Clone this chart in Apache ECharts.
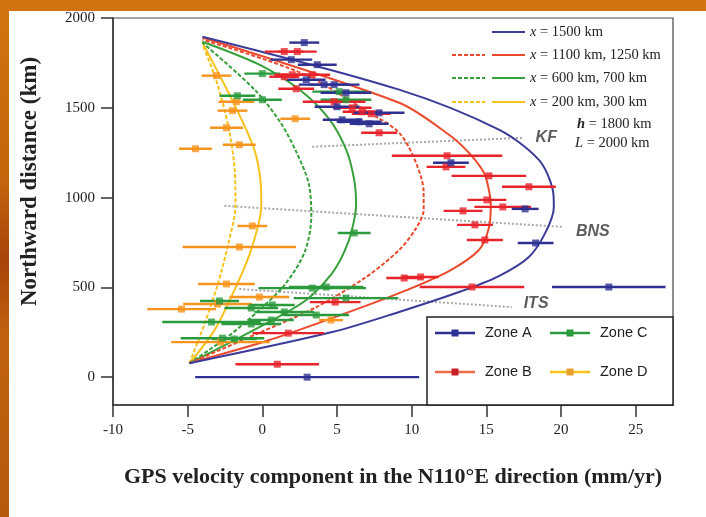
<!DOCTYPE html>
<html><head><meta charset="utf-8">
<script src="https://cdn.jsdelivr.net/npm/echarts@6/dist/echarts.min.js"></script>
<style>
html,body{margin:0;padding:0;width:706px;height:517px;overflow:hidden;}
body{background:linear-gradient(180deg,#d27410 0%,#c4640c 35%,#a8440a 50%,#c2620e 65%,#b85a0c 100%);position:relative;}
#panel{position:absolute;left:9px;top:11px;right:0;bottom:0;background:#fff;}
#chart{position:absolute;left:0;top:0;width:706px;height:517px;}
</style></head><body><div id="panel"></div><div id="chart"></div>
<script>
// ---- tick labels ----
const xTicks = [-10, -5, 0, 5, 10, 15, 20, 25];
const yTicks = [0, 500, 1000, 1500, 2000];

// ---- GPS data: [velocity, northward distance, half error] ----
const zoneA = [[2.81,1863,1.0],[1.94,1768,1.4],[3.68,1740,1.3],[2.94,1656,1.3],[4.14,1629,1.7],[4.81,1629,1.7],
  [5.6,1584,1.7],[5.0,1506,1.5],[5.35,1433,1.3],[6.48,1422,1.5],[7.15,1411,1.3],[7.82,1472,1.7],
  [12.63,1194,1.2],[17.6,937,0.9],[18.3,747,1.2],[23.2,502,3.8],[3.0,0,7.5]];
const zoneB = [[1.47,1813,1.3],[2.34,1813,1.3],[1.47,1673,1.0],[2.0,1684,1.2],[3.34,1684,1.2],[2.27,1606,1.2],
  [4.81,1534,2.1],[6.02,1500,1.3],[6.68,1478,1.3],[7.29,1467,1.3],[7.82,1361,1.2],
  [12.37,1233,3.7],[12.3,1171,1.3],[15.17,1121,2.5],[17.85,1060,1.8],[15.04,987,1.3],[16.1,948,1.9],
  [13.44,926,1.3],[14.24,848,1.2],[14.9,764,1.2],[9.5,552,1.2],[10.6,558,1.2],[14.04,502,3.5],
  [4.88,418,1.7],[1.74,245,2.4],[1.0,72,2.8]];
const zoneC = [[0,1690,1.2],[-1.67,1567,1.2],[0,1545,1.3],[5.15,1590,1.8],[5.6,1545,1.7],[6.15,803,1.1],
  [3.34,496,3.6],[4.28,502,2.5],[5.6,440,3.5],[-2.87,424,1.3],[-0.74,385,1.8],[0.67,402,1.5],
  [1.47,363,2.0],[3.61,346,2.2],[-3.4,307,3.3],[-0.74,296,2.0],[0.6,318,1.5],[-2.67,217,2.8],[-1.87,212,1.5]];
const zoneD = [[-3.07,1679,1.0],[-1.74,1534,1.2],[-2.0,1484,1.0],[-2.4,1389,1.1],[-1.54,1294,1.1],[-4.48,1272,1.1],
  [2.2,1439,1.0],[-0.67,842,1.0],[-1.54,725,3.8],[-2.4,519,1.9],[-0.2,446,2.0],[-5.41,379,2.3],
  [-3.0,407,2.3],[-2.8,195,3.3],[4.6,318,0.8]];

// ---- model profiles: [velocity, northward distance] ----
const model1500 = [[-4.88,78],[4.68,251],[9.16,363],[13.17,474],[15.84,563],[17.85,669],[18.98,809],[19.52,948],
  [19.45,1043],[18.52,1210],[15.84,1378],[9.16,1601],[-4.01,1896]];
const model1250 = [[-4.88,78],[0.27,201],[4.68,329],[9.16,468],[12.5,591],[14.5,708],[15.17,831],[15.3,959],
  [15.17,1043],[14.84,1138],[13.84,1249],[12.5,1350],[9.16,1528],[-4.01,1891]];
const model1100 = [[-4.88,78],[-0.4,240],[3.61,390],[6.95,558],[9.16,708],[10.3,830],[10.8,931],[10.8,1030],
  [10.29,1194],[9.16,1361],[7.0,1480],[2.7,1690],[-4.01,1880]];
const model700 = [[-4.88,78],[0.27,300],[2.94,430],[4.68,580],[5.5,700],[6.0,820],[6.28,960],[6.15,1100],
  [5.6,1270],[4.45,1440],[2.5,1600],[-0.2,1740],[-4.01,1868]];
const model600 = [[-4.88,78],[-2.4,220],[-0.25,370],[1.55,520],[2.85,700],[3.28,900],[3.1,1080],[2.3,1250],
  [1.2,1420],[-0.5,1600],[-4.01,1863]];
const model300 = [[-4.88,78],[-3.2,262],[-1.87,485],[-0.87,680],[-0.27,848],[-0.07,959],[-0.13,1099],[-0.53,1266],
  [-1.54,1461],[-2.54,1629],[-4.01,1863]];
const model200 = [[-4.88,78],[-3.9,290],[-3.0,513],[-2.3,736],[-1.8,959],[-1.85,1155],[-2.3,1405],[-3.1,1656],
  [-4.0,1852]];

// ---- fault traces ----
const faultKF = [[3.34,1283],[17.5,1333]];
const faultBNS = [[-2.54,954],[20.05,837]];
const faultITS = [[-1.54,491],[16.7,390]];
const faultLabels = [[18.3,1333,'KF'],[21.0,809,'BNS'],[17.5,407,'ITS']];

const C = {A:'#2e3192', B:'#e8232a', C:'#2a9a3c', D:'#f7941d',
  m1500:'#3b3b9a', mRed:'#ec4a2c', mGreen:'#36a03a', mYellow:'#f8c21b'};

function errSeries(name, data, color){
  return {type:'custom', name, data, z:3, silent:true, clip:false, encode:{x:0,y:1},
    renderItem(params, api){
      const x=api.value(0), y=api.value(1), e=api.value(2);
      const a=api.coord([x-e,y]), b=api.coord([x+e,y]);
      return {type:'line', shape:{x1:a[0],y1:a[1],x2:b[0],y2:b[1]}, style:{stroke:color, lineWidth:2.4}};
    }};
}
function ptSeries(name, data, color){
  return {type:'scatter', name, data:data.map(d=>[d[0],d[1]]), symbol:'rect', symbolSize:7,
    itemStyle:{color}, z:4, silent:true};
}
function modelSeries(name, data, color, dashed){
  return {type:'line', name, data, showSymbol:false, smooth:0.3, silent:true, z:2,
    lineStyle:{color, width:2, type: dashed ? [4,2] : 'solid'}};
}
function faultSeries(name, data){
  return {type:'line', name, data, showSymbol:false, silent:true, z:1,
    lineStyle:{color:'#a8a8a8', width:2, type:[2,2]}};
}

const serif = 'Liberation Serif';
const sans = 'Liberation Sans';

// legend graphics (model curves)
const g = [];
const rows = [
  {y:32, color:C.m1500, both:false, text:'{i|x} = 1500 km'},
  {y:55, color:C.mRed, both:true, text:'{i|x} = 1100 km, 1250 km'},
  {y:78, color:C.mGreen, both:true, text:'{i|x} = 600 km, 700 km'},
  {y:102, color:C.mYellow, both:true, text:'{i|x} = 200 km, 300 km'}
];
rows.forEach(r=>{
  if (r.both) g.push({type:'line', shape:{x1:452,y1:r.y,x2:485,y2:r.y}, style:{stroke:r.color, lineWidth:2, lineDash:[4,2]}});
  g.push({type:'line', shape:{x1:492,y1:r.y,x2:525,y2:r.y}, style:{stroke:r.color, lineWidth:2}});
  g.push({type:'text', x:530, y:r.y, style:{text:r.text, fontFamily:serif, fontSize:14.5, fill:'#222', verticalAlign:'middle',
    rich:{i:{fontStyle:'italic', fontFamily:serif, fontSize:14.5, fill:'#222'}}}});
});
g.push({type:'text', x:577, y:124, style:{text:'{i|h} = 1800 km', fontFamily:serif, fontSize:14.5, fill:'#222', verticalAlign:'middle',
  rich:{i:{fontStyle:'italic', fontWeight:'bold', fontFamily:serif, fontSize:14.5, fill:'#222'}}}});
g.push({type:'text', x:575, y:143, style:{text:'{i|L} = 2000 km', fontFamily:serif, fontSize:14.5, fill:'#222', verticalAlign:'middle',
  rich:{i:{fontStyle:'italic', fontFamily:serif, fontSize:14.5, fill:'#222'}}}});

// zone legend box
g.push({type:'rect', shape:{x:427,y:317,width:246,height:88}, style:{fill:'#fff', stroke:'#222', lineWidth:1.5}, z:10});
const zl = [
  {x:435, y:333, line:C.A, sq:C.A, text:'Zone A'},
  {x:550, y:333, line:C.C, sq:C.C, text:'Zone C'},
  {x:435, y:372, line:'#f06a4a', sq:'#c8202a', text:'Zone B'},
  {x:550, y:372, line:C.mYellow, sq:'#e8a030', text:'Zone D'}
];
zl.forEach(it=>{
  g.push({type:'line', z:11, shape:{x1:it.x,y1:it.y,x2:it.x+40,y2:it.y}, style:{stroke:it.line, lineWidth:2.4}});
  g.push({type:'rect', z:12, shape:{x:it.x+16.5,y:it.y-3.5,width:7,height:7}, style:{fill:it.sq}});
  g.push({type:'text', z:12, x:it.x+50, y:it.y, style:{text:it.text, fontFamily:sans, fontSize:14.5, fill:'#222', verticalAlign:'middle'}});
});

const chart = echarts.init(document.getElementById('chart'), null, {renderer:'canvas'});
chart.setOption({
  animation:false,
  backgroundColor:'transparent',
  grid:{left:113, right:33, top:18, bottom:112, show:true, borderColor:'#444', borderWidth:1.2, backgroundColor:'transparent'},
  xAxis:{type:'value', min:-10, max:27.5,
    axisLine:{show:true, onZero:false, lineStyle:{color:'#333', width:1.5}},
    axisTick:{show:true, length:12, customValues:xTicks, lineStyle:{color:'#333', width:1.5}},
    axisLabel:{customValues:xTicks, margin:18, fontFamily:serif, fontSize:15, color:'#222', formatter:v=>String(v)},
    splitLine:{show:false},
    name:'GPS velocity component in the N110°E direction (mm/yr)', nameLocation:'middle', nameGap:61,
    nameTextStyle:{fontFamily:serif, fontWeight:'bold', fontSize:22, color:'#222'}},
  yAxis:{type:'value', min:-155, max:2000,
    axisLine:{show:true, onZero:false, lineStyle:{color:'#333', width:1.5}},
    axisTick:{show:true, length:12, customValues:yTicks, lineStyle:{color:'#333', width:1.5}},
    axisLabel:{customValues:yTicks, margin:18, fontFamily:serif, fontSize:15, color:'#222', formatter:v=>String(v)},
    splitLine:{show:false},
    name:'Northward distance (km)', nameLocation:'middle', nameGap:71,
    nameTextStyle:{fontFamily:serif, fontWeight:'bold', fontSize:23, color:'#222', padding:[0,0,0,60]}},
  series:[
    faultSeries('KF', faultKF), faultSeries('BNS', faultBNS), faultSeries('ITS', faultITS),
    {type:'scatter', name:'fault labels', data:faultLabels, symbolSize:0, silent:true, z:5,
      label:{show:true, position:'right', distance:0, formatter:p=>p.data[2], fontFamily:sans, fontStyle:'italic',
        fontWeight:'bold', fontSize:16, color:'#333'}},
    modelSeries('x = 200 km', model200, C.mYellow, true),
    modelSeries('x = 300 km', model300, C.mYellow, false),
    modelSeries('x = 600 km', model600, C.mGreen, true),
    modelSeries('x = 700 km', model700, C.mGreen, false),
    modelSeries('x = 1100 km', model1100, C.mRed, true),
    modelSeries('x = 1250 km', model1250, C.mRed, false),
    modelSeries('x = 1500 km', model1500, C.m1500, false),
    errSeries('Zone D err', zoneD, C.D), errSeries('Zone C err', zoneC, C.C),
    errSeries('Zone B err', zoneB, C.B), errSeries('Zone A err', zoneA, C.A),
    ptSeries('Zone D', zoneD, C.D), ptSeries('Zone C', zoneC, C.C),
    ptSeries('Zone B', zoneB, C.B), ptSeries('Zone A', zoneA, C.A)
  ],
  graphic:g
});
</script></body></html>
